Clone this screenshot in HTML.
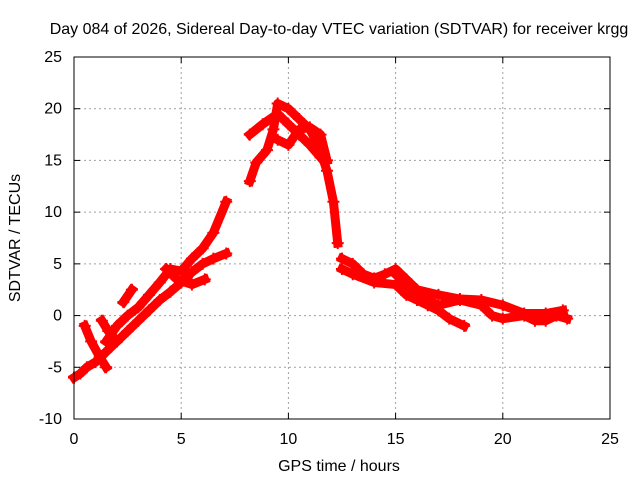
<!DOCTYPE html>
<html><head><meta charset="utf-8"><style>
body{margin:0;background:#fff}
svg text{font-family:"Liberation Sans",sans-serif;font-size:16px;fill:#000}
</style></head><body>
<svg id="c" width="640" height="480">
<text x="339" y="34" text-anchor="middle">Day 084 of 2026, Sidereal Day-to-day VTEC variation (SDTVAR) for receiver krgg</text>
<text x="339" y="471" text-anchor="middle">GPS time / hours</text>
<text x="20" y="238" text-anchor="middle" transform="rotate(-90 20 238)">SDTVAR / TECUs</text>
<g id="grid"></g><g id="data"></g><g id="axes"></g>
</svg>
<script>
const xTicks=[0,5,10,15,20,25];
const yTicks=[-10,-5,0,5,10,15,20,25];
const track1=[[0,-6],[0.3,-5.6],[0.6,-5],[1,-4.5],[1.5,-3.5],[2,-2.5],[2.5,-1.5],[3,-0.5],[3.5,0.5],[4,1.5],[4.5,2.3],[5,3.2],[5.5,4.2],[6,5],[6.5,5.5],[7.1,6]];
const track2=[[1.5,-2.5],[2,-1],[2.5,0],[3,0.8],[3.5,2],[4,3.2],[4.5,4.5],[5,4.3],[5.5,5.5],[6,6.5],[6.5,8],[7.1,11]];
const track3=[[0.5,-1],[0.8,-2.5],[1.2,-4],[1.5,-5]];
const track4=[[1.3,-0.5],[1.6,-1.5],[2,-2.5]];
const track5=[[2.3,1.3],[2.7,2.5]];
const track6=[[4.3,4.5],[4.8,3.5],[5.5,3],[6.1,3.5]];
const track7=[[8.2,13],[8.5,14.8],[9,16],[9.3,18],[9.5,20.5],[10,20],[10.5,19],[11,18],[11.4,16.5],[11.8,14],[12.1,11],[12.3,7]];
const track8=[[8.2,17.5],[8.8,18.5],[9.5,19.5],[10,18.5],[10.5,17.5],[11,16.5],[11.5,15.3]];
const track9=[[9.5,17],[10,16.5],[10.5,18],[11,18.2],[11.5,17.5],[11.8,15]];
const track10=[[12.5,5.5],[13,5],[13.5,4],[14,3.6],[14.5,4],[15,4.5],[15.5,3.5],[16,2.5],[17,2],[18,1.6],[19,1.5],[20,1],[21,0.2],[22,0.2],[22.8,0.5]];
const track11=[[12.5,4.5],[13,4],[14,3.2],[15,3],[15.5,2],[16,1.5],[16.5,1],[17,0.5],[17.5,-0.3],[18.2,-1]];
const track12=[[15,4],[16,2],[17,1],[18,1.5],[19,1],[19.5,0],[20,-0.3],[21,0],[21.5,-0.5],[22,-0.5],[22.5,0],[23,-0.3]];
const tracks=[track1,track2,track3,track4,track5,track6,track7,track8,track9,track10,track11,track12];
const X0=74,X1=610,Y0=419,Y1=57;
const sx=v=>X0+(v-0)/(25-0)*(X1-X0);
const sy=v=>Y0-(v+10)/35*(Y0-Y1);
const NS='http://www.w3.org/2000/svg';
function mk(t,a,p){const e=document.createElementNS(NS,t);for(const k in a)e.setAttribute(k,a[k]);p.appendChild(e);return e;}
const grid=document.getElementById('grid'),axes=document.getElementById('axes'),data=document.getElementById('data');
xTicks.forEach(t=>{const x=sx(t);
 if(t>0&&t<25){const g=mk('line',{x1:x,x2:x,y1:Y1,y2:Y0,stroke:'#a0a0a0','stroke-dasharray':'2,3'},grid);}
 mk('line',{x1:x,x2:x,y1:Y0,y2:Y0-6,stroke:'#000'},axes);mk('line',{x1:x,x2:x,y1:Y1,y2:Y1+6,stroke:'#000'},axes);
 const l=mk('text',{x:x,y:444,'text-anchor':'middle'},axes);l.textContent=t;
 });
yTicks.forEach(t=>{const y=sy(t);
 if(t>-10&&t<25){const g=mk('line',{x1:X0,x2:X1,y1:y,y2:y,stroke:'#a0a0a0','stroke-dasharray':'2,3'},grid);}
 mk('line',{x1:X0,x2:X0+6,y1:y,y2:y,stroke:'#000'},axes);mk('line',{x1:X1,x2:X1-6,y1:y,y2:y,stroke:'#000'},axes);
 const l=mk('text',{x:62,y:y+5,'text-anchor':'end'},axes);l.textContent=t;
 });
const f=mk('rect',{x:X0,y:Y1,width:X1-X0,height:Y0-Y1,fill:'none',stroke:'#000'},axes);

tracks.forEach(tr=>{
 const p=mk('polyline',{points:tr.map(d=>sx(d[0])+','+sy(d[1])).join(' '),fill:'none',stroke:'#f00','stroke-width':9,'stroke-linejoin':'round','stroke-linecap':'square'},data);
 
 tr.forEach(d=>{const x=sx(d[0]),y=sy(d[1]);
  const m=mk('path',{d:`M${x-6},${y}h12M${x},${y-6}v12`,stroke:'#f00','stroke-width':2},data);
  });
});
</script>
</body></html>
